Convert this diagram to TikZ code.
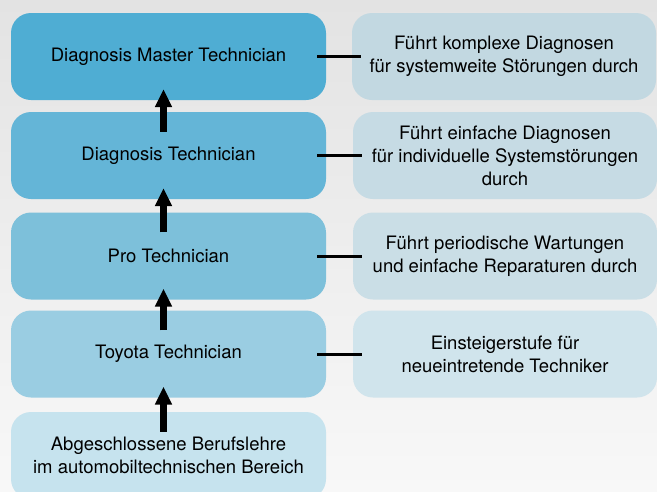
\documentclass[tikz,border=0pt]{standalone}
\usepackage{fontspec}
\setmainfont{TeX Gyre Heros}
\usetikzlibrary{arrows.meta}
\definecolor{bgtop}{HTML}{E3E3E3}
\definecolor{bgbottom}{HTML}{F8F8F8}
\definecolor{levelA}{HTML}{4FADD3}
\definecolor{levelB}{HTML}{64B5D7}
\definecolor{levelC}{HTML}{7DC0DA}
\definecolor{levelD}{HTML}{9ACDE2}
\definecolor{levelE}{HTML}{C6E3EE}
\definecolor{taskA}{HTML}{C2D8E1}
\definecolor{taskB}{HTML}{C6DBE4}
\definecolor{taskC}{HTML}{CADEE6}
\definecolor{taskD}{HTML}{D0E4EC}
\begin{document}
\begin{tikzpicture}[x=1pt,y=-1pt,
  font=\fontsize{18.5}{23}\selectfont,
  level/.style={rounded corners=20pt,minimum width=315pt,minimum height=87pt,
    align=center,inner sep=0pt},
  task/.style={rounded corners=20pt,minimum width=304pt,minimum height=87pt,
    align=center,inner sep=0pt},
  up/.style={line width=7pt,-{Triangle[width=16pt,length=18pt]}},
  link/.style={line width=3pt}]
  \clip (0,0) rectangle (657,491);
  \shade[top color=bgtop,bottom color=bgbottom] (0,0) rectangle (657,491);
  % career levels
  \node[level,fill=levelA] (master) at (168.5,56.5) {Diagnosis Master Technician};
  \node[level,fill=levelB] (diag) at (168.5,155.5) {Diagnosis Technician};
  \node[level,fill=levelC] (pro) at (168.5,256) {Pro Technician};
  \node[level,fill=levelD] (toyota) at (168.5,354) {Toyota Technician};
  \node[level,fill=levelE] (base) at (168.5,455.5)
    {Abgeschlossene Berufslehre\\im automobiltechnischen Bereich};
  % tasks
  \node[task,fill=taskA] (masterjob) at (504,56.5)
    {Führt komplexe Diagnosen\\für systemweite Störungen durch};
  \node[task,fill=taskB] (diagjob) at (505,155.5)
    {Führt einfache Diagnosen\\für individuelle Systemstörungen\\durch};
  \node[task,fill=taskC] (projob) at (505,256)
    {Führt periodische Wartungen\\und einfache Reparaturen durch};
  \node[task,fill=taskD] (toyotajob) at (505,354)
    {Einsteigerstufe für\\neueintretende Techniker};
  \foreach \a/\b in {base/toyota,toyota/pro,pro/diag,diag/master}
    \draw[up] ([xshift=-5pt,yshift=-20pt]\a.north) -- ([xshift=-5pt,yshift=11pt]\b.south);
  \foreach \a in {master,diag,pro,toyota}
    \draw[link] ([xshift=-9pt]\a.east) -- ([xshift=9pt]\a job.west);
\end{tikzpicture}
\end{document}
